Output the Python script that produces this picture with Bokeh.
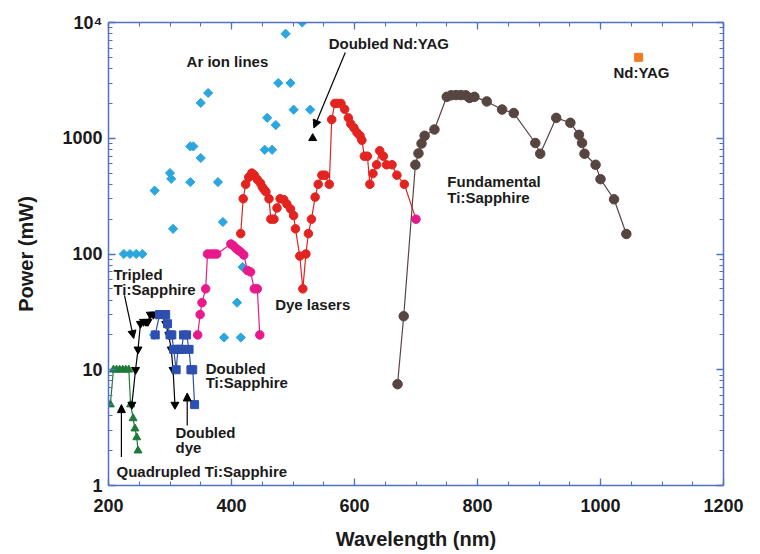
import math
from bokeh.plotting import figure
from bokeh.models import (LogAxis, LinearAxis, FixedTicker, Arrow, NormalHead, Label,
                          CustomJSTickFormatter)
from bokeh.embed import file_html
from bokeh.resources import INLINE

# ---------------- data ----------------
ar_x = [225, 235, 245, 255, 274, 275, 300, 302, 305, 333, 338, 333, 350, 350, 362, 378, 386, 388, 409, 415, 418, 454, 458, 466, 472, 476, 488, 496, 501, 515, 528]
ar_y = [100, 100, 100, 100, 20, 353, 500, 446, 165, 850, 850, 418, 675, 2020, 2460, 418, 189, 19, 38, 19, 77, 795, 1500, 795, 1300, 3000, 8000, 3000, 1765, 10000, 1765]

red_x = [415, 419, 423, 428, 433, 437, 442, 447, 450, 453, 456, 461, 464, 469, 474, 479, 485, 490, 496, 501, 504, 511, 516, 521, 525, 530, 536, 541, 547, 552, 559, 563, 568, 572, 578, 584, 590, 594, 599, 604, 609, 612, 616, 621, 625, 630, 636, 641, 647, 652, 661, 669, 681]
red_y = [150, 300, 400, 460, 500, 480, 440, 410, 380, 360, 345, 300, 200, 200, 250, 300, 295, 270, 245, 215, 165, 96, 50, 100, 150, 200, 310, 400, 480, 480, 400, 1450, 2000, 2000, 2000, 1780, 1500, 1330, 1230, 1120, 1050, 960, 700, 700, 400, 495, 590, 780, 700, 590, 590, 480, 400]
dye_end_x = [700]
dye_end_y = [200]

pink_x = [345, 349, 352, 358, 361, 366, 371, 376, 399, 403, 407, 411, 415, 420, 426, 431, 437, 442, 446]
pink_y = [20, 30, 38, 50, 100, 100, 100, 100, 122, 118, 112, 108, 104, 98, 72, 70, 50, 50, 20]

blue_x = [276, 283, 288, 293, 296, 300, 303, 306, 310, 313, 316, 319, 322, 327, 331, 334, 337, 340]
blue_y = [20, 30, 30, 30, 25, 20, 20, 15, 10, 15, 15, 15, 20, 20, 15, 10, 10, 5]

black_x = [238, 244, 248, 252, 257, 261, 264, 268, 273, 278, 282, 287, 293, 298, 302, 305, 308]
black_y = [5, 10, 15, 25, 26, 26, 26, 30, 30, 30, 30, 30, 25, 20, 15, 10, 5]

green_x = [203, 208, 213, 218, 223, 228, 233, 236, 240, 243, 246, 248]
green_y = [5, 10, 10, 10, 10, 10, 10, 5, 3.8, 3.1, 2.6, 2]

brown_x = [670, 680, 699, 704, 709, 714, 730, 750, 757, 765, 773, 781, 787, 795, 815, 840, 859, 894, 902, 928, 951, 965, 970, 974, 992, 1000, 1022, 1042]
brown_y = [7.5, 29, 590, 740, 900, 1050, 1190, 2280, 2350, 2360, 2360, 2350, 2230, 2280, 2080, 1770, 1650, 910, 735, 1500, 1360, 1070, 910, 735, 590, 443, 297, 149]

ndyag_x = [1062]
ndyag_y = [5000]
dnd_x = [532]
dnd_y = [1000]

x_ticks = [200, 400, 600, 800, 1000, 1200]
y_ticks = [1, 10, 100, 1000, 10000]
y_tick_labels = {1: "1", 10: "10", 100: "100", 1000: "1000", 10000: "10\u2074"}

# ---------------- style ----------------
AXC = "#4f72c4"
FONT = "Liberation Sans"
TXT = "#1a1a1a"
CYAN = "#2ba6de"
RED = "#e3231f"
PINK = "#e8198b"
BLUE = "#2d4fb0"
GREEN = "#1d7a38"
BROWN = "#574542"
ORANGE = "#f27a26"

p = figure(width=760, height=554, x_range=(200, 1200), y_range=(1, 10000),
           y_axis_type="log", output_backend="svg", toolbar_location=None,
           min_border_left=108, min_border_right=37, min_border_top=22,
           min_border_bottom=69)
p.outline_line_color = None
p.grid.visible = False
p.background_fill_color = "white"
p.border_fill_color = "white"

x_minor = [v for v in range(200, 1201, 50)]
y_minor = [m * d for d in (1, 10, 100, 1000) for m in range(2, 10)]

bottom = p.below[0]
left = p.left[0]
bottom.ticker = FixedTicker(ticks=x_ticks, minor_ticks=x_minor)
left.ticker = FixedTicker(ticks=y_ticks, minor_ticks=y_minor)
left.major_label_overrides = y_tick_labels
bottom.axis_label = "Wavelength (nm)"
left.axis_label = "Power (mW)"

blank = CustomJSTickFormatter(code="return ''")
top = LinearAxis(ticker=FixedTicker(ticks=x_ticks, minor_ticks=x_minor), formatter=blank,
                 major_label_standoff=0)
right = LogAxis(ticker=FixedTicker(ticks=y_ticks, minor_ticks=y_minor), formatter=blank,
                major_label_standoff=0)
p.add_layout(top, "above")
p.add_layout(right, "right")

for ax in [bottom, left, top, right]:
    ax.axis_line_color = AXC
    ax.axis_line_width = 1.5
    ax.major_tick_line_color = AXC
    ax.minor_tick_line_color = AXC
    ax.major_tick_line_width = 1.3
    ax.minor_tick_line_width = 1.1
    ax.major_tick_in = 7
    ax.major_tick_out = 0
    ax.minor_tick_in = 4
    ax.minor_tick_out = 0
    ax.major_label_text_font = FONT
    ax.major_label_text_font_style = "bold"
    ax.major_label_text_color = TXT
    ax.major_label_text_font_size = "18px"
    ax.axis_label_text_font = FONT
    ax.axis_label_text_font_style = "bold"
    ax.axis_label_text_color = TXT
    ax.axis_label_text_font_size = "20px"

bottom.major_label_standoff = 13
bottom.axis_label_standoff = 13
left.major_label_standoff = 6
left.axis_label_standoff = 22

# ---------------- series ----------------
p.scatter(ar_x, ar_y, marker="square", angle=math.pi / 4, size=6.5, color=CYAN)

p.line(green_x, green_y, color=GREEN, line_width=1.2)
p.scatter(green_x, green_y, marker="triangle", size=8, color=GREEN)

p.line(black_x, black_y, color="black", line_width=1.2)
p.scatter(black_x, black_y, marker="inverted_triangle", size=8, color="black")

p.line(blue_x, blue_y, color=BLUE, line_width=1.2)
p.scatter(blue_x, blue_y, marker="square", size=8, color=BLUE)

p.line(pink_x, pink_y, color=PINK, line_width=1.2)
p.scatter(pink_x, pink_y, marker="circle", size=8.5, color=PINK)

p.line(red_x + dye_end_x, red_y + dye_end_y, color=RED, line_width=1.2)
p.scatter(red_x, red_y, marker="circle", size=8.5, color=RED)
p.scatter(dye_end_x, dye_end_y, marker="circle", size=8.5, color=PINK)

p.line(brown_x, brown_y, color=BROWN, line_width=1.2)
p.scatter(brown_x, brown_y, marker="circle", size=9.5, color=BROWN)

p.scatter(ndyag_x, ndyag_y, marker="square", size=8, color=ORANGE)
p.scatter(dnd_x, dnd_y, marker="triangle", size=8, color="black")

# ---------------- annotations ----------------
def lab(x, y, t):
    p.add_layout(Label(x=x, y=y, text=t, text_font=FONT, text_font_style="bold",
                       text_font_size="15px", text_color=TXT,
                       text_align="left", text_baseline="middle"))

lab(327, 4594, "Ar ion lines")
lab(558, 6650, "Doubled Nd:YAG")
lab(1021, 3727, "Nd:YAG")
lab(751, 420, "Fundamental")
lab(751, 308, "Ti:Sapphire")
lab(471, 36.5, "Dye lasers")
lab(208, 66, "Tripled")
lab(208, 49, "Ti:Sapphire")
lab(358, 10.3, "Doubled")
lab(358, 7.7, "Ti:Sapphire")
lab(309, 2.86, "Doubled")
lab(309, 2.15, "dye")
lab(213, 1.31, "Quadrupled Ti:Sapphire")

def arrow(x0, y0, x1, y1):
    p.add_layout(Arrow(end=NormalHead(size=8, fill_color="black", line_color="black"),
                       x_start=x0, y_start=y0, x_end=x1, y_end=y1,
                       line_color="black", line_width=1.2))

arrow(585, 5500, 534, 1225)
arrow(226, 44, 241, 18.6)
arrow(328, 3.3, 328, 6.3)
arrow(221, 1.76, 221, 5.0)

open("out.html", "w").write(file_html(p, INLINE))
